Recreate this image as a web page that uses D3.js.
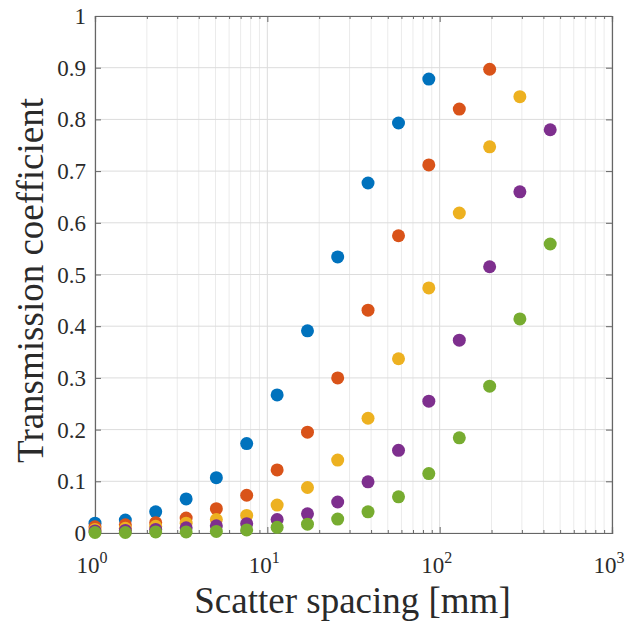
<!DOCTYPE html>
<html>
<head>
<meta charset="utf-8">
<script src="https://cdn.jsdelivr.net/npm/d3@7"></script>
<style>
  html, body { margin: 0; padding: 0; background: #fff; }
  svg { display: block; }
  text { font-family: "Liberation Serif", "DejaVu Serif", serif; fill: #2a2a2a; }
</style>
</head>
<body>
<svg id="chart" width="630" height="626"></svg>
<script>
// Scatter spacing values [mm]
const spacing = [1, 1.5, 2.25, 3.38, 5.06, 7.59, 11.4, 17.1, 25.6, 38.4, 57.7, 86.5, 130, 195, 292, 438];

// Transmission coefficient for each series (one per curve)
const seriesBlue   = [0.019, 0.025, 0.041, 0.066, 0.107, 0.173, 0.267, 0.391, 0.534, 0.677, 0.793, 0.878];
const seriesRed    = [0.012, 0.016, 0.020, 0.029, 0.047, 0.073, 0.122, 0.195, 0.300, 0.431, 0.575, 0.712, 0.820, 0.897];
const seriesYellow = [0.007, 0.009, 0.013, 0.019, 0.026, 0.034, 0.054, 0.088, 0.141, 0.222, 0.337, 0.474, 0.619, 0.747, 0.844];
const seriesPurple = [0.004, 0.005, 0.007, 0.010, 0.014, 0.018, 0.026, 0.037, 0.060, 0.099, 0.160, 0.255, 0.373, 0.515, 0.660, 0.780];
const seriesGreen  = [0.001, 0.001, 0.002, 0.002, 0.003, 0.006, 0.011, 0.017, 0.027, 0.041, 0.070, 0.115, 0.184, 0.284, 0.414, 0.559];

const seriesColors = ["#0072BD", "#D95319", "#EDB120", "#7E2F8E", "#77AC30"];
const allSeries = [seriesBlue, seriesRed, seriesYellow, seriesPurple, seriesGreen];

const xTickExps = [0, 1, 2, 3];
const yTickValues = [0, 0.1, 0.2, 0.3, 0.4, 0.5, 0.6, 0.7, 0.8, 0.9, 1];
const yTickLabels = ["0", "0.1", "0.2", "0.3", "0.4", "0.5", "0.6", "0.7", "0.8", "0.9", "1"];

const plotLeft = 95, plotRight = 612, plotTop = 16, plotBottom = 533;

const svg = d3.select("#chart");
const x = d3.scaleLog().domain([1, 1000]).range([plotLeft, plotRight]);
const y = d3.scaleLinear().domain([0, 1]).range([plotBottom, plotTop]);

// minor positions 2..9 within each decade
const minorX = [];
for (let e = 0; e < 3; e++) {
  for (let k = 2; k <= 9; k++) minorX.push(k * Math.pow(10, e));
}
const majorX = xTickExps.map(e => Math.pow(10, e));

const grid = svg.append("g");
grid.selectAll("line.minor").data(minorX).join("line")
  .attr("x1", d => x(d)).attr("x2", d => x(d))
  .attr("y1", plotTop).attr("y2", plotBottom)
  .attr("stroke", "#ebebeb").attr("stroke-width", 1);
grid.selectAll("line.majx").data(majorX).join("line")
  .attr("x1", d => x(d)).attr("x2", d => x(d))
  .attr("y1", plotTop).attr("y2", plotBottom)
  .attr("stroke", "#dcdcdc").attr("stroke-width", 1);
grid.selectAll("line.majy").data(yTickValues).join("line")
  .attr("x1", plotLeft).attr("x2", plotRight)
  .attr("y1", d => y(d)).attr("y2", d => y(d))
  .attr("stroke", "#dcdcdc").attr("stroke-width", 1);

// axes (ticks pointing inward, box on all sides)
const axisColor = "#666";
const xBottom = svg.append("g").attr("transform", `translate(0,${plotBottom})`)
  .call(d3.axisTop(x).tickValues(majorX).tickSize(6).tickFormat(""));
const xBottomMinor = svg.append("g").attr("transform", `translate(0,${plotBottom})`)
  .call(d3.axisTop(x).tickValues(minorX).tickSize(3).tickFormat(""));
const xTopAxis = svg.append("g").attr("transform", `translate(0,${plotTop})`)
  .call(d3.axisBottom(x).tickValues(majorX).tickSize(6).tickFormat(""));
const xTopMinor = svg.append("g").attr("transform", `translate(0,${plotTop})`)
  .call(d3.axisBottom(x).tickValues(minorX).tickSize(3).tickFormat(""));
const yLeftAxis = svg.append("g").attr("transform", `translate(${plotLeft},0)`)
  .call(d3.axisRight(y).tickValues(yTickValues).tickSize(6).tickFormat(""));
const yRightAxis = svg.append("g").attr("transform", `translate(${plotRight},0)`)
  .call(d3.axisLeft(y).tickValues(yTickValues).tickSize(6).tickFormat(""));
[xBottom, xBottomMinor, xTopAxis, xTopMinor, yLeftAxis, yRightAxis].forEach(g => {
  g.selectAll("path").attr("stroke", axisColor).attr("stroke-width", 1.2);
  g.selectAll("line").attr("stroke", axisColor);
});

// y tick labels
svg.append("g").selectAll("text").data(yTickValues).join("text")
  .attr("x", plotLeft - 9).attr("y", d => y(d))
  .attr("dy", "0.35em").attr("text-anchor", "end")
  .attr("font-size", 23)
  .text((d, i) => yTickLabels[i]);

// x tick labels as 10^n
const xl = svg.append("g").selectAll("text").data(xTickExps).join("text")
  .attr("x", d => x(Math.pow(10, d)) - 3).attr("y", plotBottom + 40)
  .attr("text-anchor", "middle").attr("font-size", 23);
xl.append("tspan").text("10");
xl.append("tspan").attr("dy", -10).attr("font-size", 16).text(d => d);

// points
const plot = svg.append("g");
allSeries.forEach((vals, si) => {
  plot.append("g").selectAll("circle").data(vals).join("circle")
    .attr("cx", (d, i) => x(spacing[i]))
    .attr("cy", d => y(d))
    .attr("r", 6.5)
    .attr("fill", seriesColors[si]);
});

// axis titles
svg.append("text")
  .attr("x", (plotLeft + plotRight) / 2 - 1).attr("y", 613)
  .attr("text-anchor", "middle").attr("font-size", 37)
  .text("Scatter spacing [mm]");
svg.append("text")
  .attr("transform", `translate(43,${(plotTop + plotBottom) / 2 + 6}) rotate(-90)`)
  .attr("text-anchor", "middle").attr("font-size", 37)
  .text("Transmission coefficient");
</script>
</body>
</html>
